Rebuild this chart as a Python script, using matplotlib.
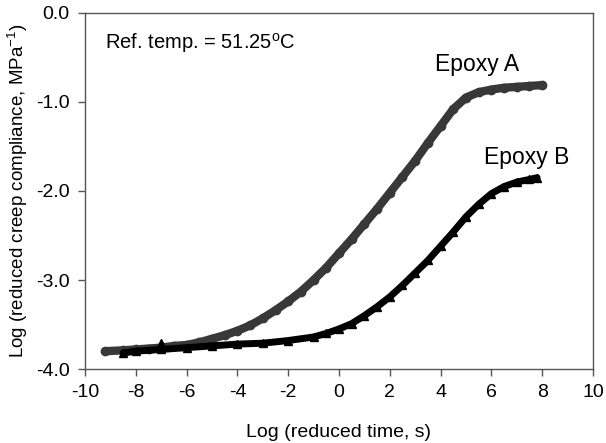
import matplotlib
matplotlib.use("Agg")
import matplotlib.pyplot as plt
from matplotlib.ticker import FormatStrFormatter

plt.rcParams['font.family'] = ['Liberation Sans', 'DejaVu Sans']
plt.rcParams['axes.unicode_minus'] = False
plt.rcParams['mathtext.fontset'] = 'custom'
plt.rcParams['mathtext.rm'] = 'Liberation Sans'
plt.rcParams['mathtext.it'] = 'Liberation Sans:italic'
plt.rcParams['mathtext.bf'] = 'Liberation Sans:bold'

# Epoxy A (circles)
epoxy_a_x = [-9.2, -8.5, -8.0, -7.5, -7.0, -6.5, -6.0, -5.5, -5.0, -4.5, -4.0, -3.5,
             -3.0, -2.5, -2.0, -1.5, -1.0, -0.5, 0.0, 0.5, 1.0, 1.5, 2.0, 2.5, 3.0,
             3.5, 4.0, 4.5, 5.0, 5.5, 6.0, 6.5, 7.0, 7.5, 8.0]
epoxy_a_y = [-3.80, -3.79, -3.78, -3.77, -3.76, -3.74, -3.73, -3.70, -3.66, -3.62, -3.57, -3.51,
             -3.43, -3.34, -3.24, -3.13, -3.00, -2.86, -2.70, -2.54, -2.37, -2.20, -2.02, -1.84, -1.66,
             -1.46, -1.27, -1.08, -0.95, -0.89, -0.86, -0.84, -0.83, -0.82, -0.81]

# Epoxy B (triangles)
epoxy_b_x = [-8.5, -8.0, -7.0, -6.0, -5.0, -4.0, -3.0, -2.0, -1.0, -0.5, 0.0, 0.5, 1.0,
             1.5, 2.0, 2.5, 3.0, 3.5, 4.0, 4.5, 5.0, 5.5, 6.0, 6.5, 7.0, 7.5, 7.8]
epoxy_b_y = [-3.82, -3.80, -3.78, -3.76, -3.74, -3.72, -3.71, -3.68, -3.64, -3.60, -3.55, -3.49, -3.40,
             -3.30, -3.19, -3.06, -2.92, -2.78, -2.62, -2.46, -2.29, -2.15, -2.03, -1.95, -1.90, -1.87, -1.85]
epoxy_b_outlier_x = [-7.0]
epoxy_b_outlier_y = [-3.72]

x_ticks = [-10, -8, -6, -4, -2, 0, 2, 4, 6, 8, 10]
y_ticks = [0.0, -1.0, -2.0, -3.0, -4.0]

fig = plt.figure(figsize=(6.06, 4.43), dpi=100)
ax = fig.add_axes([0.1403, 0.167, 0.8382, 0.8037])

ax.plot(epoxy_a_x, epoxy_a_y, color='#383838', lw=6, solid_capstyle='round',
        marker='o', ms=6, mec='#383838', mfc='#383838', zorder=2)
ax.plot(epoxy_b_x, epoxy_b_y, color='black', lw=5, solid_capstyle='round',
        marker='^', ms=6, mec='black', mfc='black', zorder=3)
ax.plot(epoxy_b_outlier_x, epoxy_b_outlier_y, ls='none', marker='^', ms=7,
        color='black', zorder=3)

ax.set_xlim(-10, 10)
ax.set_ylim(-4, 0)
ax.set_xticks(x_ticks)
ax.set_yticks(y_ticks)
ax.yaxis.set_major_formatter(FormatStrFormatter('%.1f'))
ax.tick_params(direction='out', length=5, width=1, color='#555555',
               labelsize=14, pad=6)
for s in ax.spines.values():
    s.set_color('#555555')
    s.set_linewidth(1)

ax.set_xlabel('Log (reduced time, s)', fontsize=14, labelpad=16)
ax.set_ylabel('Log (reduced creep compliance, MPa$^{-1}$)', fontsize=13.5, labelpad=4)

ax.text(-9.21, -0.34, 'Ref. temp. = 51.25$^{\\mathrm{o}}$C', fontsize=14.5,
        ha='left', va='center')
ax.text(5.43, -0.58, 'Epoxy A', fontsize=16.5, ha='center', va='center')
ax.text(7.4, -1.62, 'Epoxy B', fontsize=16.5, ha='center', va='center')

fig.savefig('out.png', dpi=100)
